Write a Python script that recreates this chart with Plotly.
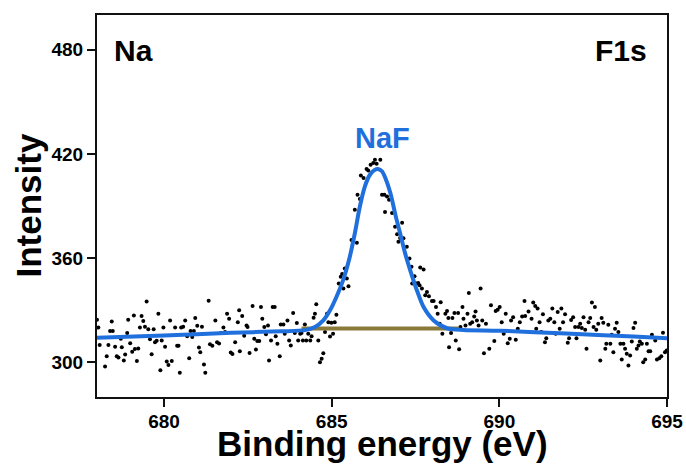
import plotly.graph_objects as go

# ---- measured data points (binding energy in eV, intensity) ----
energy = [
678.00,678.04,678.08,678.24,678.29,678.34,678.39,678.44,678.47,678.54,678.59,678.64,678.71,678.74,678.80,678.84,678.90,678.93,678.99,
679.05,679.10,679.13,679.19,679.23,679.28,679.33,679.38,679.43,679.48,679.53,679.58,679.63,679.69,679.73,679.78,679.83,679.89,679.93,679.98,
680.03,680.08,680.13,680.18,680.23,680.33,680.39,680.43,680.47,680.51,680.57,680.63,680.69,680.75,680.79,680.84,680.89,680.93,680.99,
681.04,681.08,681.13,681.19,681.23,681.33,681.37,681.44,681.53,681.58,681.64,681.70,681.77,681.82,681.88,681.94,681.99,
682.04,682.12,682.20,682.24,682.26,682.33,682.39,682.46,682.49,682.55,682.64,682.69,682.74,682.78,682.84,682.89,682.93,682.99,
683.04,683.10,683.13,683.19,683.24,683.30,683.33,683.38,683.45,683.48,683.56,683.60,683.68,683.73,683.78,683.85,683.90,683.96,
684.00,684.06,684.10,684.14,684.20,684.24,684.30,684.36,684.40,684.46,684.50,684.54,684.60,684.65,684.70,684.75,684.80,684.86,684.90,684.95,684.99,
685.04,685.09,685.14,685.21,685.27,685.31,685.35,685.39,685.45,685.50,685.59,685.69,685.75,685.77,685.84,685.87,685.95,
686.04,686.09,686.16,686.24,686.29,686.34,686.45,686.50,686.57,686.59,686.65,686.71,686.80,686.89,686.95,686.99,
687.04,687.10,687.14,687.24,687.32,687.38,687.40,687.47,687.52,687.58,687.62,687.64,687.69,687.74,687.79,687.84,687.90,687.99,
688.04,688.11,688.16,688.22,688.25,688.30,688.39,688.44,688.48,688.50,688.56,688.60,688.66,688.70,688.77,688.80,688.84,688.90,688.93,688.99,
689.05,689.09,689.13,689.19,689.25,689.29,689.33,689.38,689.44,689.49,689.54,689.60,689.70,689.75,689.85,689.89,689.95,
690.01,690.07,690.13,690.19,690.25,690.31,690.35,690.41,690.49,690.55,690.61,690.68,690.75,690.77,690.87,690.96,
691.01,691.07,691.10,691.14,691.20,691.25,691.30,691.36,691.40,691.46,691.52,691.58,691.64,691.68,691.74,691.80,691.85,691.90,691.96,
692.04,692.08,692.14,692.20,692.26,692.30,692.36,692.41,692.46,692.51,692.56,692.60,692.66,692.71,692.76,692.81,692.85,692.89,692.95,
693.01,693.05,693.10,693.16,693.19,693.25,693.31,693.35,693.40,693.45,693.50,693.55,693.61,693.65,693.70,693.75,693.80,693.85,693.90,693.95,
694.00,694.05,694.10,694.15,694.19,694.25,694.29,694.35,694.40,694.45,694.50,694.55,694.65,694.70,694.77,694.83,694.88,694.94,694.99,
]
intensity = [
324.5,320.0,310.0,297.5,303.5,310.0,318.0,323.5,318.0,309.0,303.5,302.7,313.5,308.7,301.0,304.5,316.8,324.5,311.0,
306.0,327.0,307.7,300.8,308.0,320.0,326.6,323.7,320.5,335.0,319.0,313.3,304.6,319.0,311.6,312.4,328.0,295.4,312.5,320.0,
309.0,300.4,298.5,324.0,300.8,320.0,309.5,309.5,294.0,320.0,320.5,324.0,315.0,302.3,318.0,314.5,318.0,325.5,321.0,
308.5,305.8,320.5,298.7,294.0,335.5,310.4,309.5,324.0,311.6,310.8,316.8,320.0,317.4,328.0,325.0,305.6,
304.8,311.6,323.0,330.0,306.4,326.6,315.3,321.2,320.3,305.4,332.4,313.5,307.3,312.2,312.2,331.8,325.1,320.3,
316.2,321.2,301.0,312.6,331.8,331.8,315.0,310.6,303.5,321.8,321.8,316.4,324.1,312.6,309.7,328.4,316.8,322.6,
312.6,316.4,316.8,312.6,321.8,312.6,316.4,312.6,315.0,325.7,328.0,333.4,312.6,300.0,302.0,305.2,317.4,328.0,323.1,314.9,322.8,
316.4,323.1,327.4,345.4,349.2,350.8,342.5,354.0,348.3,343.8,370.4,387.8,368.9,396.5,394.0,407.5,406.1,
411.3,410.5,413.8,414.8,416.7,414.4,416.7,396.5,396.5,386.6,395.5,393.6,386.0,378.1,373.7,369.4,
371.6,380.4,371.4,366.5,359.8,355.0,345.4,349.6,345.4,345.7,344.4,354.6,342.5,353.5,338.6,340.5,338.0,335.3,
335.3,331.8,328.0,322.2,334.5,316.4,328.0,329.5,325.5,308.7,316.8,325.5,328.4,312.6,328.4,307.5,320.3,331.8,325.1,321.2,
328.0,339.9,322.2,323.1,326.4,329.3,324.1,321.2,342.5,324.1,305.2,322.2,307.8,332.8,312.2,329.5,330.3,
331.8,323.1,316.4,328.0,311.0,313.5,324.1,326.0,313.0,319.3,323.1,326.4,335.3,326.6,329.3,325.1,
334.4,332.4,319.3,330.9,323.1,317.4,327.6,311.6,313.9,324.1,325.1,330.9,323.1,316.4,328.9,319.3,330.9,323.1,327.6,
311.2,313.9,324.3,326.0,320.3,313.9,320.3,322.2,319.7,326.0,318.8,307.8,323.1,325.5,334.4,320.3,331.8,318.8,322.2,
301.0,325.5,322.8,307.8,310.6,321.6,310.6,315.9,305.8,319.3,322.8,317.4,310.6,301.6,310.6,307.8,304.9,298.1,303.9,312.0,
319.7,322.8,307.8,309.7,312.0,310.6,300.0,301.6,310.6,306.4,306.4,315.9,312.6,301.6,302.3,303.5,317.0,305.8,306.8,
]

# ---- fitted envelope ----
fit_energy = [678.0,680.0,682.0,683.5,684.2,684.5,684.75,684.95,685.14,685.34,685.54,685.69,685.84,685.99,
              686.14,686.29,686.40,686.50,686.60,686.75,686.90,687.04,687.19,687.34,687.54,687.74,688.04,
              688.44,688.93,690.0,692.0,694.0,695.0]
fit_intensity = [314.1,315.4,317.0,317.8,318.5,320.3,324.1,329.9,337.6,347.3,360.8,374.3,389.7,401.3,
                 408.0,410.9,411.2,410.0,406.1,397.5,384.9,374.3,362.7,353.1,341.5,331.8,324.1,
                 319.6,318.6,318.2,316.5,314.8,313.9]

# ---- background under the NaF component ----
bg_energy = [684.1, 688.8]
bg_intensity = [319.4, 319.5]

x_ticks = [680, 685, 690, 695]
y_ticks = [300, 360, 420, 480]

BLUE = "#1f6fdc"
OLIVE = "#8a7a3a"
FONT = "Liberation Sans, Arial, sans-serif"

fig = go.Figure()
fig.add_trace(go.Scatter(x=energy, y=intensity, mode="markers",
                         marker=dict(color="black", size=4), showlegend=False))
fig.add_trace(go.Scatter(x=bg_energy, y=bg_intensity, mode="lines",
                         line=dict(color=OLIVE, width=4), showlegend=False))
fig.add_trace(go.Scatter(x=fit_energy, y=fit_intensity, mode="lines",
                         line=dict(color=BLUE, width=4, shape="spline", smoothing=0.8),
                         showlegend=False))

axis_common = dict(showgrid=False, zeroline=False, showline=True, linecolor="#111",
                   linewidth=2, mirror=True, ticks="outside", ticklen=8, tickwidth=2,
                   tickcolor="#111", automargin=False,
                   tickfont=dict(family=FONT, size=19, color="black", weight="bold"))

fig.update_xaxes(range=[678, 695], tickvals=x_ticks, ticktext=[str(v) for v in x_ticks],
                 ticklabelstandoff=-2, **axis_common)
fig.update_yaxes(range=[280, 500], tickvals=y_ticks, ticktext=[str(v) for v in y_ticks],
                 **axis_common)

fig.update_layout(
    width=686, height=464, autosize=False,
    margin=dict(l=97, r=19, t=15, b=67, autoexpand=False),
    plot_bgcolor="white", paper_bgcolor="white",
    font=dict(family=FONT),
    annotations=[
        dict(text="Na", x=679.1, y=479.5, xref="x", yref="y", showarrow=False,
             font=dict(family=FONT, size=30, color="black", weight="bold")),
        dict(text="F1s", x=693.63, y=479.5, xref="x", yref="y", showarrow=False,
             font=dict(family=FONT, size=30, color="black", weight="bold")),
        dict(text="NaF", x=686.5, y=428.9, xref="x", yref="y", showarrow=False,
             font=dict(family=FONT, size=29, color=BLUE, weight="bold")),
        dict(text="Binding energy (eV)", x=0.5, y=-0.122, xref="paper", yref="paper",
             xanchor="center", yanchor="middle", showarrow=False,
             font=dict(family=FONT, size=35, color="black", weight="bold")),
        dict(text="Intensity", x=-0.1219, y=0.5, xref="paper", yref="paper",
             xanchor="center", yanchor="middle", textangle=-90, showarrow=False,
             font=dict(family=FONT, size=35, color="black", weight="bold")),
    ],
)

fig.write_html("out.html", config={"responsive": False})
